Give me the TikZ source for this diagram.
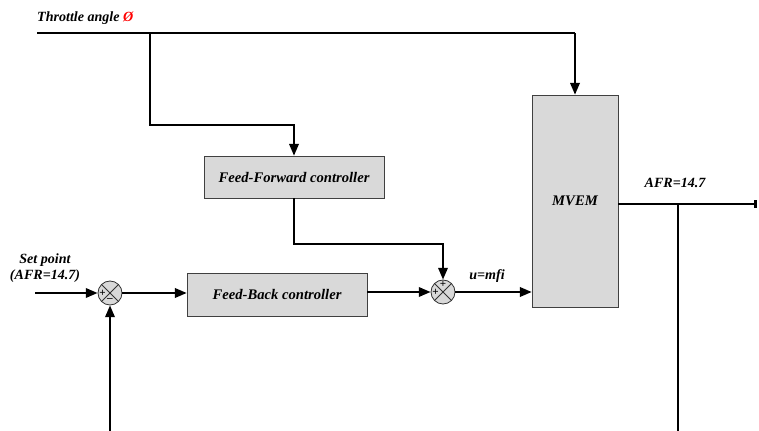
\documentclass[tikz,border=0pt]{standalone}
\usepackage{fontspec}
\setmainfont{Liberation Serif}
\usetikzlibrary{arrows.meta}

\begin{document}
\begin{tikzpicture}[x=0.03cm,y=-0.03cm,
  wire/.style={line width=1.8pt},
  arr/.style={wire,-{Triangle[length=10pt,width=8pt]}},
  blk/.style={draw=black!75,fill=gray!30,line width=0.5pt,inner sep=0pt,
    font=\fontsize{12.5}{14}\selectfont\bfseries\itshape},
  sumpt/.style={circle,draw=black!80,fill=gray!30,line width=0.7pt,
    minimum size=0.72cm,inner sep=0pt,
    path picture={\draw[line width=0.7pt]
      (path picture bounding box.north west)--(path picture bounding box.south east)
      (path picture bounding box.north east)--(path picture bounding box.south west);}},
  lbl/.style={font=\fontsize{12}{14}\selectfont\bfseries\itshape,inner sep=0pt},
  sgn/.style={font=\fontsize{9.5}{9.5}\selectfont\bfseries,inner sep=0pt}
]
\useasboundingbox (0,0) rectangle (759,431);

% blocks
\node[blk,minimum width=5.4cm,minimum height=1.26cm] (ff) at (294,177) {Feed-Forward controller};
\node[blk,minimum width=5.4cm,minimum height=1.29cm] (fb) at (277,294.5) {Feed-Back controller};
\node[blk,minimum width=2.58cm,minimum height=6.36cm] (mvem) at (575,201) {MVEM};

% summing points
\node[sumpt] (s1) at (110,293) {};
\node[sgn] at (102.5,293) {+};
\node[sgn] at (110,300.5) {–};
\node[sumpt] (s2) at (443,292) {};
\node[sgn] at (443,284.5) {+};
\node[sgn] at (435.5,292) {+};

% labels
\node[lbl,anchor=west] (thr) at (37,18) {Throttle angle \textcolor{red}{Ø}};
\node[lbl,align=center] (setp) at (45,268) {Set point\\(AFR=14.7)};
\node[lbl] (ulbl) at (487,276) {u=mfi};
\node[lbl] (afr) at (675,183) {AFR=14.7};

% helper points
\coordinate (tin) at (37,33);
\coordinate (tj) at (150,33);
\coordinate (ffin) at (150,125);
\coordinate (ffbend) at (294,244);
\coordinate (sp) at (35,293);
\coordinate (yout) at (757,204);
\coordinate (fbr) at (678,204);
\coordinate (fbrbot) at (678,431);
\coordinate (fbl) at (110,431);

% throttle paths
\draw[wire] (tin) -- (tin -| mvem.north);
\draw[arr] (tin -| mvem.north) -- (mvem.north);
\draw[arr] (tj) -- (ffin) -| (ff.north);
\draw[arr] (ff.south) -- (ffbend) -| (s2.north);

% main loop
\draw[arr] (sp) -- (s1.west);
\draw[arr] (s1.east) -- (s1.east -| fb.west);
\draw[arr] (fb.east |- s2) -- (s2.west);
\draw[arr] (s2.east) -- (s2.east -| mvem.west);
\draw[wire,-{Rectangle[length=2.5pt,width=7pt]}] (mvem.east |- yout) -- (yout);
\draw[wire] (fbr) -- (fbrbot);
\draw[arr] (fbl) -- (s1.south);
\end{tikzpicture}
\end{document}
